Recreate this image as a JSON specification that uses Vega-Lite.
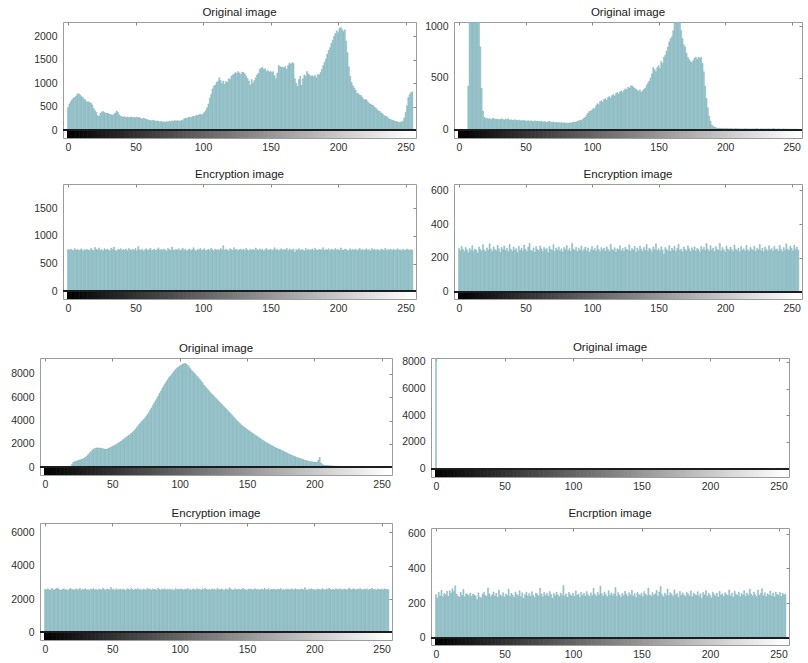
{
  "$schema": "https://vega.github.io/schema/vega-lite/v6.json",
  "background": "white",
  "padding": {"left": 0, "top": 6, "right": 0, "bottom": 0},
  "align": "none",
  "bounds": "full",
  "spacing": 0,
  "datasets": {
    "p1": [{"x":0,"y":480},{"x":1,"y":560},{"x":2,"y":610},{"x":3,"y":650},{"x":4,"y":690},{"x":5,"y":700},{"x":6,"y":730},{"x":7,"y":770},{"x":8,"y":780},{"x":9,"y":750},{"x":10,"y":720},{"x":11,"y":700},{"x":12,"y":660},{"x":13,"y":640},{"x":14,"y":600},{"x":15,"y":610},{"x":16,"y":590},{"x":17,"y":580},{"x":18,"y":540},{"x":19,"y":470},{"x":20,"y":420},{"x":21,"y":380},{"x":22,"y":310},{"x":23,"y":300},{"x":24,"y":360},{"x":25,"y":390},{"x":26,"y":400},{"x":27,"y":380},{"x":28,"y":360},{"x":29,"y":370},{"x":30,"y":350},{"x":31,"y":340},{"x":32,"y":330},{"x":33,"y":320},{"x":34,"y":340},{"x":35,"y":370},{"x":36,"y":410},{"x":37,"y":380},{"x":38,"y":330},{"x":39,"y":300},{"x":40,"y":290},{"x":41,"y":280},{"x":42,"y":290},{"x":43,"y":270},{"x":44,"y":280},{"x":45,"y":275},{"x":46,"y":270},{"x":47,"y":285},{"x":48,"y":270},{"x":49,"y":275},{"x":50,"y":265},{"x":51,"y":280},{"x":52,"y":265},{"x":53,"y":270},{"x":54,"y":250},{"x":55,"y":240},{"x":56,"y":260},{"x":57,"y":245},{"x":58,"y":230},{"x":59,"y":225},{"x":60,"y":215},{"x":61,"y":210},{"x":62,"y":200},{"x":63,"y":215},{"x":64,"y":205},{"x":65,"y":190},{"x":66,"y":200},{"x":67,"y":185},{"x":68,"y":180},{"x":69,"y":190},{"x":70,"y":175},{"x":71,"y":180},{"x":72,"y":170},{"x":73,"y":185},{"x":74,"y":175},{"x":75,"y":190},{"x":76,"y":180},{"x":77,"y":200},{"x":78,"y":185},{"x":79,"y":210},{"x":80,"y":195},{"x":81,"y":205},{"x":82,"y":200},{"x":83,"y":190},{"x":84,"y":215},{"x":85,"y":205},{"x":86,"y":245},{"x":87,"y":260},{"x":88,"y":250},{"x":89,"y":270},{"x":90,"y":280},{"x":91,"y":265},{"x":92,"y":290},{"x":93,"y":300},{"x":94,"y":290},{"x":95,"y":320},{"x":96,"y":310},{"x":97,"y":330},{"x":98,"y":340},{"x":99,"y":320},{"x":100,"y":350},{"x":101,"y":380},{"x":102,"y":420},{"x":103,"y":480},{"x":104,"y":560},{"x":105,"y":680},{"x":106,"y":760},{"x":107,"y":880},{"x":108,"y":940},{"x":109,"y":960},{"x":110,"y":1020},{"x":111,"y":1040},{"x":112,"y":1120},{"x":113,"y":1060},{"x":114,"y":1000},{"x":115,"y":1050},{"x":116,"y":980},{"x":117,"y":1040},{"x":118,"y":1020},{"x":119,"y":1100},{"x":120,"y":1080},{"x":121,"y":1150},{"x":122,"y":1180},{"x":123,"y":1200},{"x":124,"y":1230},{"x":125,"y":1210},{"x":126,"y":1250},{"x":127,"y":1220},{"x":128,"y":1190},{"x":129,"y":1240},{"x":130,"y":1230},{"x":131,"y":1200},{"x":132,"y":1150},{"x":133,"y":1100},{"x":134,"y":1050},{"x":135,"y":960},{"x":136,"y":1080},{"x":137,"y":1000},{"x":138,"y":1060},{"x":139,"y":1120},{"x":140,"y":1180},{"x":141,"y":1210},{"x":142,"y":1300},{"x":143,"y":1320},{"x":144,"y":1340},{"x":145,"y":1300},{"x":146,"y":1310},{"x":147,"y":1250},{"x":148,"y":1280},{"x":149,"y":1240},{"x":150,"y":1260},{"x":151,"y":1230},{"x":152,"y":1250},{"x":153,"y":1160},{"x":154,"y":1100},{"x":155,"y":1220},{"x":156,"y":1380},{"x":157,"y":1360},{"x":158,"y":1340},{"x":159,"y":1350},{"x":160,"y":1330},{"x":161,"y":1360},{"x":162,"y":1300},{"x":163,"y":1380},{"x":164,"y":1430},{"x":165,"y":1410},{"x":166,"y":1440},{"x":167,"y":1420},{"x":168,"y":1100},{"x":169,"y":1000},{"x":170,"y":930},{"x":171,"y":1080},{"x":172,"y":1150},{"x":173,"y":960},{"x":174,"y":1100},{"x":175,"y":1180},{"x":176,"y":1150},{"x":177,"y":1250},{"x":178,"y":1200},{"x":179,"y":1170},{"x":180,"y":1150},{"x":181,"y":1160},{"x":182,"y":1140},{"x":183,"y":1170},{"x":184,"y":1120},{"x":185,"y":1190},{"x":186,"y":1180},{"x":187,"y":1230},{"x":188,"y":1300},{"x":189,"y":1380},{"x":190,"y":1450},{"x":191,"y":1520},{"x":192,"y":1620},{"x":193,"y":1700},{"x":194,"y":1760},{"x":195,"y":1850},{"x":196,"y":1920},{"x":197,"y":2000},{"x":198,"y":2060},{"x":199,"y":2120},{"x":200,"y":2080},{"x":201,"y":2170},{"x":202,"y":2190},{"x":203,"y":2150},{"x":204,"y":2100},{"x":205,"y":2140},{"x":206,"y":1900},{"x":207,"y":1650},{"x":208,"y":1350},{"x":209,"y":1150},{"x":210,"y":1020},{"x":211,"y":950},{"x":212,"y":900},{"x":213,"y":850},{"x":214,"y":790},{"x":215,"y":780},{"x":216,"y":750},{"x":217,"y":740},{"x":218,"y":700},{"x":219,"y":660},{"x":220,"y":650},{"x":221,"y":650},{"x":222,"y":610},{"x":223,"y":570},{"x":224,"y":560},{"x":225,"y":540},{"x":226,"y":530},{"x":227,"y":490},{"x":228,"y":470},{"x":229,"y":440},{"x":230,"y":410},{"x":231,"y":400},{"x":232,"y":370},{"x":233,"y":350},{"x":234,"y":320},{"x":235,"y":300},{"x":236,"y":290},{"x":237,"y":265},{"x":238,"y":240},{"x":239,"y":230},{"x":240,"y":215},{"x":241,"y":210},{"x":242,"y":195},{"x":243,"y":185},{"x":244,"y":180},{"x":245,"y":170},{"x":246,"y":165},{"x":247,"y":175},{"x":248,"y":190},{"x":249,"y":260},{"x":250,"y":380},{"x":251,"y":520},{"x":252,"y":700},{"x":253,"y":760},{"x":254,"y":800},{"x":255,"y":820}],
    "p2": [{"x":0,"y":0},{"x":1,"y":0},{"x":2,"y":0},{"x":3,"y":0},{"x":4,"y":0},{"x":5,"y":0},{"x":6,"y":0},{"x":7,"y":420},{"x":8,"y":1800},{"x":9,"y":2400},{"x":10,"y":2600},{"x":11,"y":2500},{"x":12,"y":2200},{"x":13,"y":1900},{"x":14,"y":1600},{"x":15,"y":1300},{"x":16,"y":800},{"x":17,"y":400},{"x":18,"y":180},{"x":19,"y":120},{"x":20,"y":105},{"x":21,"y":110},{"x":22,"y":100},{"x":23,"y":108},{"x":24,"y":95},{"x":25,"y":104},{"x":26,"y":110},{"x":27,"y":98},{"x":28,"y":102},{"x":29,"y":96},{"x":30,"y":100},{"x":31,"y":94},{"x":32,"y":105},{"x":33,"y":98},{"x":34,"y":92},{"x":35,"y":100},{"x":36,"y":96},{"x":37,"y":104},{"x":38,"y":90},{"x":39,"y":95},{"x":40,"y":92},{"x":41,"y":88},{"x":42,"y":96},{"x":43,"y":90},{"x":44,"y":85},{"x":45,"y":93},{"x":46,"y":88},{"x":47,"y":82},{"x":48,"y":90},{"x":49,"y":86},{"x":50,"y":84},{"x":51,"y":80},{"x":52,"y":88},{"x":53,"y":78},{"x":54,"y":85},{"x":55,"y":82},{"x":56,"y":76},{"x":57,"y":84},{"x":58,"y":80},{"x":59,"y":78},{"x":60,"y":82},{"x":61,"y":75},{"x":62,"y":80},{"x":63,"y":72},{"x":64,"y":78},{"x":65,"y":74},{"x":66,"y":70},{"x":67,"y":76},{"x":68,"y":80},{"x":69,"y":72},{"x":70,"y":68},{"x":71,"y":74},{"x":72,"y":66},{"x":73,"y":70},{"x":74,"y":64},{"x":75,"y":72},{"x":76,"y":60},{"x":77,"y":68},{"x":78,"y":62},{"x":79,"y":66},{"x":80,"y":60},{"x":81,"y":64},{"x":82,"y":58},{"x":83,"y":66},{"x":84,"y":62},{"x":85,"y":68},{"x":86,"y":70},{"x":87,"y":74},{"x":88,"y":72},{"x":89,"y":80},{"x":90,"y":84},{"x":91,"y":90},{"x":92,"y":88},{"x":93,"y":100},{"x":94,"y":110},{"x":95,"y":120},{"x":96,"y":140},{"x":97,"y":160},{"x":98,"y":175},{"x":99,"y":180},{"x":100,"y":190},{"x":101,"y":205},{"x":102,"y":200},{"x":103,"y":230},{"x":104,"y":250},{"x":105,"y":240},{"x":106,"y":270},{"x":107,"y":280},{"x":108,"y":265},{"x":109,"y":290},{"x":110,"y":300},{"x":111,"y":285},{"x":112,"y":310},{"x":113,"y":320},{"x":114,"y":305},{"x":115,"y":330},{"x":116,"y":340},{"x":117,"y":325},{"x":118,"y":350},{"x":119,"y":360},{"x":120,"y":345},{"x":121,"y":365},{"x":122,"y":375},{"x":123,"y":360},{"x":124,"y":380},{"x":125,"y":395},{"x":126,"y":385},{"x":127,"y":410},{"x":128,"y":400},{"x":129,"y":420},{"x":130,"y":425},{"x":131,"y":410},{"x":132,"y":400},{"x":133,"y":390},{"x":134,"y":380},{"x":135,"y":370},{"x":136,"y":385},{"x":137,"y":360},{"x":138,"y":375},{"x":139,"y":390},{"x":140,"y":400},{"x":141,"y":430},{"x":142,"y":450},{"x":143,"y":470},{"x":144,"y":500},{"x":145,"y":540},{"x":146,"y":600},{"x":147,"y":580},{"x":148,"y":560},{"x":149,"y":600},{"x":150,"y":620},{"x":151,"y":590},{"x":152,"y":660},{"x":153,"y":640},{"x":154,"y":700},{"x":155,"y":720},{"x":156,"y":760},{"x":157,"y":800},{"x":158,"y":850},{"x":159,"y":880},{"x":160,"y":900},{"x":161,"y":960},{"x":162,"y":1060},{"x":163,"y":1150},{"x":164,"y":1250},{"x":165,"y":1100},{"x":166,"y":1050},{"x":167,"y":960},{"x":168,"y":880},{"x":169,"y":820},{"x":170,"y":800},{"x":171,"y":740},{"x":172,"y":700},{"x":173,"y":680},{"x":174,"y":660},{"x":175,"y":650},{"x":176,"y":670},{"x":177,"y":690},{"x":178,"y":700},{"x":179,"y":680},{"x":180,"y":700},{"x":181,"y":690},{"x":182,"y":700},{"x":183,"y":640},{"x":184,"y":560},{"x":185,"y":420},{"x":186,"y":300},{"x":187,"y":210},{"x":188,"y":130},{"x":189,"y":80},{"x":190,"y":45},{"x":191,"y":30},{"x":192,"y":25},{"x":193,"y":18},{"x":194,"y":15},{"x":195,"y":12},{"x":196,"y":14},{"x":197,"y":10},{"x":198,"y":12},{"x":199,"y":9},{"x":200,"y":10},{"x":201,"y":8},{"x":202,"y":12},{"x":203,"y":7},{"x":204,"y":9},{"x":205,"y":11},{"x":206,"y":6},{"x":207,"y":8},{"x":208,"y":10},{"x":209,"y":7},{"x":210,"y":9},{"x":211,"y":6},{"x":212,"y":8},{"x":213,"y":5},{"x":214,"y":7},{"x":215,"y":9},{"x":216,"y":6},{"x":217,"y":8},{"x":218,"y":5},{"x":219,"y":7},{"x":220,"y":6},{"x":221,"y":8},{"x":222,"y":5},{"x":223,"y":7},{"x":224,"y":9},{"x":225,"y":6},{"x":226,"y":5},{"x":227,"y":8},{"x":228,"y":6},{"x":229,"y":7},{"x":230,"y":5},{"x":231,"y":7},{"x":232,"y":6},{"x":233,"y":8},{"x":234,"y":5},{"x":235,"y":6},{"x":236,"y":9},{"x":237,"y":7},{"x":238,"y":5},{"x":239,"y":6},{"x":240,"y":8},{"x":241,"y":5},{"x":242,"y":6},{"x":243,"y":4},{"x":244,"y":7},{"x":245,"y":5},{"x":246,"y":6},{"x":247,"y":4},{"x":248,"y":5},{"x":249,"y":3},{"x":250,"y":4},{"x":251,"y":3},{"x":252,"y":5},{"x":253,"y":2},{"x":254,"y":3},{"x":255,"y":2}],
    "p3": [{"x":0,"y":752},{"x":1,"y":738},{"x":2,"y":761},{"x":3,"y":745},{"x":4,"y":729},{"x":5,"y":770},{"x":6,"y":741},{"x":7,"y":756},{"x":8,"y":733},{"x":9,"y":748},{"x":10,"y":765},{"x":11,"y":724},{"x":12,"y":751},{"x":13,"y":739},{"x":14,"y":758},{"x":15,"y":742},{"x":16,"y":735},{"x":17,"y":774},{"x":18,"y":747},{"x":19,"y":731},{"x":20,"y":790},{"x":21,"y":758},{"x":22,"y":744},{"x":23,"y":781},{"x":24,"y":736},{"x":25,"y":752},{"x":26,"y":727},{"x":27,"y":769},{"x":28,"y":745},{"x":29,"y":760},{"x":30,"y":741},{"x":31,"y":733},{"x":32,"y":778},{"x":33,"y":750},{"x":34,"y":795},{"x":35,"y":739},{"x":36,"y":722},{"x":37,"y":757},{"x":38,"y":746},{"x":39,"y":768},{"x":40,"y":735},{"x":41,"y":752},{"x":42,"y":744},{"x":43,"y":761},{"x":44,"y":728},{"x":45,"y":773},{"x":46,"y":749},{"x":47,"y":738},{"x":48,"y":756},{"x":49,"y":742},{"x":50,"y":771},{"x":51,"y":730},{"x":52,"y":806},{"x":53,"y":747},{"x":54,"y":739},{"x":55,"y":759},{"x":56,"y":726},{"x":57,"y":750},{"x":58,"y":765},{"x":59,"y":737},{"x":60,"y":748},{"x":61,"y":775},{"x":62,"y":733},{"x":63,"y":744},{"x":64,"y":760},{"x":65,"y":729},{"x":66,"y":752},{"x":67,"y":782},{"x":68,"y":740},{"x":69,"y":754},{"x":70,"y":736},{"x":71,"y":763},{"x":72,"y":745},{"x":73,"y":727},{"x":74,"y":770},{"x":75,"y":751},{"x":76,"y":738},{"x":77,"y":797},{"x":78,"y":744},{"x":79,"y":733},{"x":80,"y":759},{"x":81,"y":742},{"x":82,"y":768},{"x":83,"y":731},{"x":84,"y":750},{"x":85,"y":776},{"x":86,"y":739},{"x":87,"y":755},{"x":88,"y":724},{"x":89,"y":746},{"x":90,"y":762},{"x":91,"y":737},{"x":92,"y":749},{"x":93,"y":784},{"x":94,"y":741},{"x":95,"y":728},{"x":96,"y":758},{"x":97,"y":745},{"x":98,"y":771},{"x":99,"y":734},{"x":100,"y":750},{"x":101,"y":766},{"x":102,"y":729},{"x":103,"y":743},{"x":104,"y":757},{"x":105,"y":738},{"x":106,"y":775},{"x":107,"y":748},{"x":108,"y":732},{"x":109,"y":760},{"x":110,"y":741},{"x":111,"y":754},{"x":112,"y":736},{"x":113,"y":769},{"x":114,"y":747},{"x":115,"y":822},{"x":116,"y":739},{"x":117,"y":758},{"x":118,"y":744},{"x":119,"y":730},{"x":120,"y":767},{"x":121,"y":751},{"x":122,"y":738},{"x":123,"y":786},{"x":124,"y":745},{"x":125,"y":757},{"x":126,"y":733},{"x":127,"y":749},{"x":128,"y":762},{"x":129,"y":740},{"x":130,"y":755},{"x":131,"y":736},{"x":132,"y":772},{"x":133,"y":746},{"x":134,"y":729},{"x":135,"y":760},{"x":136,"y":743},{"x":137,"y":752},{"x":138,"y":738},{"x":139,"y":779},{"x":140,"y":748},{"x":141,"y":734},{"x":142,"y":763},{"x":143,"y":741},{"x":144,"y":756},{"x":145,"y":727},{"x":146,"y":751},{"x":147,"y":770},{"x":148,"y":739},{"x":149,"y":745},{"x":150,"y":761},{"x":151,"y":735},{"x":152,"y":748},{"x":153,"y":784},{"x":154,"y":742},{"x":155,"y":757},{"x":156,"y":730},{"x":157,"y":749},{"x":158,"y":766},{"x":159,"y":738},{"x":160,"y":752},{"x":161,"y":744},{"x":162,"y":775},{"x":163,"y":731},{"x":164,"y":758},{"x":165,"y":747},{"x":166,"y":739},{"x":167,"y":762},{"x":168,"y":705},{"x":169,"y":750},{"x":170,"y":741},{"x":171,"y":768},{"x":172,"y":733},{"x":173,"y":754},{"x":174,"y":746},{"x":175,"y":728},{"x":176,"y":771},{"x":177,"y":743},{"x":178,"y":756},{"x":179,"y":737},{"x":180,"y":749},{"x":181,"y":764},{"x":182,"y":732},{"x":183,"y":777},{"x":184,"y":745},{"x":185,"y":739},{"x":186,"y":758},{"x":187,"y":741},{"x":188,"y":753},{"x":189,"y":785},{"x":190,"y":736},{"x":191,"y":752},{"x":192,"y":744},{"x":193,"y":767},{"x":194,"y":730},{"x":195,"y":759},{"x":196,"y":748},{"x":197,"y":738},{"x":198,"y":770},{"x":199,"y":742},{"x":200,"y":755},{"x":201,"y":734},{"x":202,"y":781},{"x":203,"y":746},{"x":204,"y":739},{"x":205,"y":762},{"x":206,"y":751},{"x":207,"y":729},{"x":208,"y":744},{"x":209,"y":768},{"x":210,"y":737},{"x":211,"y":753},{"x":212,"y":742},{"x":213,"y":760},{"x":214,"y":731},{"x":215,"y":749},{"x":216,"y":772},{"x":217,"y":740},{"x":218,"y":756},{"x":219,"y":733},{"x":220,"y":748},{"x":221,"y":765},{"x":222,"y":738},{"x":223,"y":751},{"x":224,"y":727},{"x":225,"y":769},{"x":226,"y":743},{"x":227,"y":757},{"x":228,"y":736},{"x":229,"y":754},{"x":230,"y":745},{"x":231,"y":731},{"x":232,"y":762},{"x":233,"y":748},{"x":234,"y":739},{"x":235,"y":774},{"x":236,"y":735},{"x":237,"y":752},{"x":238,"y":741},{"x":239,"y":760},{"x":240,"y":733},{"x":241,"y":756},{"x":242,"y":746},{"x":243,"y":738},{"x":244,"y":767},{"x":245,"y":742},{"x":246,"y":750},{"x":247,"y":729},{"x":248,"y":758},{"x":249,"y":744},{"x":250,"y":736},{"x":251,"y":761},{"x":252,"y":747},{"x":253,"y":733},{"x":254,"y":755},{"x":255,"y":740}],
    "p4": [{"x":0,"y":255},{"x":1,"y":242},{"x":2,"y":268},{"x":3,"y":250},{"x":4,"y":237},{"x":5,"y":261},{"x":6,"y":248},{"x":7,"y":231},{"x":8,"y":256},{"x":9,"y":244},{"x":10,"y":272},{"x":11,"y":239},{"x":12,"y":253},{"x":13,"y":246},{"x":14,"y":229},{"x":15,"y":265},{"x":16,"y":251},{"x":17,"y":240},{"x":18,"y":278},{"x":19,"y":247},{"x":20,"y":236},{"x":21,"y":259},{"x":22,"y":245},{"x":23,"y":283},{"x":24,"y":252},{"x":25,"y":238},{"x":26,"y":266},{"x":27,"y":249},{"x":28,"y":241},{"x":29,"y":274},{"x":30,"y":254},{"x":31,"y":233},{"x":32,"y":262},{"x":33,"y":248},{"x":34,"y":271},{"x":35,"y":243},{"x":36,"y":257},{"x":37,"y":236},{"x":38,"y":280},{"x":39,"y":250},{"x":40,"y":239},{"x":41,"y":264},{"x":42,"y":247},{"x":43,"y":255},{"x":44,"y":232},{"x":45,"y":269},{"x":46,"y":244},{"x":47,"y":258},{"x":48,"y":241},{"x":49,"y":276},{"x":50,"y":251},{"x":51,"y":237},{"x":52,"y":263},{"x":53,"y":286},{"x":54,"y":245},{"x":55,"y":240},{"x":56,"y":259},{"x":57,"y":234},{"x":58,"y":267},{"x":59,"y":249},{"x":60,"y":242},{"x":61,"y":271},{"x":62,"y":253},{"x":63,"y":238},{"x":64,"y":262},{"x":65,"y":247},{"x":66,"y":256},{"x":67,"y":231},{"x":68,"y":268},{"x":69,"y":250},{"x":70,"y":244},{"x":71,"y":279},{"x":72,"y":237},{"x":73,"y":258},{"x":74,"y":246},{"x":75,"y":265},{"x":76,"y":240},{"x":77,"y":253},{"x":78,"y":235},{"x":79,"y":261},{"x":80,"y":248},{"x":81,"y":273},{"x":82,"y":242},{"x":83,"y":256},{"x":84,"y":239},{"x":85,"y":287},{"x":86,"y":251},{"x":87,"y":244},{"x":88,"y":262},{"x":89,"y":236},{"x":90,"y":257},{"x":91,"y":245},{"x":92,"y":270},{"x":93,"y":238},{"x":94,"y":252},{"x":95,"y":264},{"x":96,"y":241},{"x":97,"y":259},{"x":98,"y":233},{"x":99,"y":248},{"x":100,"y":267},{"x":101,"y":243},{"x":102,"y":255},{"x":103,"y":239},{"x":104,"y":274},{"x":105,"y":250},{"x":106,"y":236},{"x":107,"y":261},{"x":108,"y":246},{"x":109,"y":258},{"x":110,"y":240},{"x":111,"y":266},{"x":112,"y":252},{"x":113,"y":237},{"x":114,"y":281},{"x":115,"y":249},{"x":116,"y":243},{"x":117,"y":260},{"x":118,"y":235},{"x":119,"y":254},{"x":120,"y":248},{"x":121,"y":272},{"x":122,"y":241},{"x":123,"y":256},{"x":124,"y":238},{"x":125,"y":263},{"x":126,"y":251},{"x":127,"y":244},{"x":128,"y":277},{"x":129,"y":239},{"x":130,"y":255},{"x":131,"y":246},{"x":132,"y":268},{"x":133,"y":233},{"x":134,"y":259},{"x":135,"y":242},{"x":136,"y":270},{"x":137,"y":250},{"x":138,"y":238},{"x":139,"y":262},{"x":140,"y":245},{"x":141,"y":279},{"x":142,"y":240},{"x":143,"y":257},{"x":144,"y":251},{"x":145,"y":236},{"x":146,"y":265},{"x":147,"y":248},{"x":148,"y":283},{"x":149,"y":243},{"x":150,"y":254},{"x":151,"y":239},{"x":152,"y":266},{"x":153,"y":247},{"x":154,"y":222},{"x":155,"y":261},{"x":156,"y":250},{"x":157,"y":241},{"x":158,"y":273},{"x":159,"y":237},{"x":160,"y":258},{"x":161,"y":246},{"x":162,"y":269},{"x":163,"y":238},{"x":164,"y":255},{"x":165,"y":280},{"x":166,"y":243},{"x":167,"y":252},{"x":168,"y":236},{"x":169,"y":264},{"x":170,"y":249},{"x":171,"y":241},{"x":172,"y":271},{"x":173,"y":254},{"x":174,"y":237},{"x":175,"y":260},{"x":176,"y":245},{"x":177,"y":266},{"x":178,"y":240},{"x":179,"y":256},{"x":180,"y":250},{"x":181,"y":234},{"x":182,"y":268},{"x":183,"y":247},{"x":184,"y":262},{"x":185,"y":243},{"x":186,"y":285},{"x":187,"y":252},{"x":188,"y":239},{"x":189,"y":272},{"x":190,"y":246},{"x":191,"y":258},{"x":192,"y":237},{"x":193,"y":266},{"x":194,"y":251},{"x":195,"y":244},{"x":196,"y":287},{"x":197,"y":240},{"x":198,"y":261},{"x":199,"y":248},{"x":200,"y":235},{"x":201,"y":270},{"x":202,"y":253},{"x":203,"y":242},{"x":204,"y":264},{"x":205,"y":249},{"x":206,"y":238},{"x":207,"y":276},{"x":208,"y":251},{"x":209,"y":243},{"x":210,"y":259},{"x":211,"y":236},{"x":212,"y":267},{"x":213,"y":245},{"x":214,"y":254},{"x":215,"y":240},{"x":216,"y":273},{"x":217,"y":248},{"x":218,"y":237},{"x":219,"y":262},{"x":220,"y":251},{"x":221,"y":244},{"x":222,"y":269},{"x":223,"y":238},{"x":224,"y":256},{"x":225,"y":247},{"x":226,"y":279},{"x":227,"y":242},{"x":228,"y":258},{"x":229,"y":236},{"x":230,"y":265},{"x":231,"y":250},{"x":232,"y":241},{"x":233,"y":272},{"x":234,"y":246},{"x":235,"y":255},{"x":236,"y":239},{"x":237,"y":268},{"x":238,"y":248},{"x":239,"y":253},{"x":240,"y":240},{"x":241,"y":274},{"x":242,"y":249},{"x":243,"y":237},{"x":244,"y":261},{"x":245,"y":245},{"x":246,"y":283},{"x":247,"y":252},{"x":248,"y":243},{"x":249,"y":270},{"x":250,"y":256},{"x":251,"y":241},{"x":252,"y":276},{"x":253,"y":250},{"x":254,"y":264},{"x":255,"y":245}],
    "p5": [{"x":0,"y":0},{"x":1,"y":0},{"x":2,"y":0},{"x":3,"y":0},{"x":4,"y":0},{"x":5,"y":0},{"x":6,"y":0},{"x":7,"y":0},{"x":8,"y":0},{"x":9,"y":0},{"x":10,"y":0},{"x":11,"y":0},{"x":12,"y":0},{"x":13,"y":0},{"x":14,"y":0},{"x":15,"y":0},{"x":16,"y":0},{"x":17,"y":0},{"x":18,"y":0},{"x":19,"y":0},{"x":20,"y":250},{"x":21,"y":420},{"x":22,"y":480},{"x":23,"y":520},{"x":24,"y":560},{"x":25,"y":600},{"x":26,"y":640},{"x":27,"y":680},{"x":28,"y":720},{"x":29,"y":780},{"x":30,"y":850},{"x":31,"y":950},{"x":32,"y":1080},{"x":33,"y":1200},{"x":34,"y":1330},{"x":35,"y":1450},{"x":36,"y":1550},{"x":37,"y":1620},{"x":38,"y":1660},{"x":39,"y":1670},{"x":40,"y":1660},{"x":41,"y":1650},{"x":42,"y":1630},{"x":43,"y":1600},{"x":44,"y":1570},{"x":45,"y":1550},{"x":46,"y":1570},{"x":47,"y":1610},{"x":48,"y":1670},{"x":49,"y":1730},{"x":50,"y":1790},{"x":51,"y":1850},{"x":52,"y":1900},{"x":53,"y":1970},{"x":54,"y":2050},{"x":55,"y":2120},{"x":56,"y":2200},{"x":57,"y":2280},{"x":58,"y":2370},{"x":59,"y":2460},{"x":60,"y":2550},{"x":61,"y":2640},{"x":62,"y":2720},{"x":63,"y":2800},{"x":64,"y":2900},{"x":65,"y":3010},{"x":66,"y":3120},{"x":67,"y":3250},{"x":68,"y":3400},{"x":69,"y":3550},{"x":70,"y":3700},{"x":71,"y":3820},{"x":72,"y":3950},{"x":73,"y":4070},{"x":74,"y":4200},{"x":75,"y":4350},{"x":76,"y":4510},{"x":77,"y":4680},{"x":78,"y":4880},{"x":79,"y":5080},{"x":80,"y":5290},{"x":81,"y":5500},{"x":82,"y":5700},{"x":83,"y":5900},{"x":84,"y":6100},{"x":85,"y":6330},{"x":86,"y":6530},{"x":87,"y":6750},{"x":88,"y":6950},{"x":89,"y":7150},{"x":90,"y":7320},{"x":91,"y":7500},{"x":92,"y":7670},{"x":93,"y":7820},{"x":94,"y":7960},{"x":95,"y":8100},{"x":96,"y":8250},{"x":97,"y":8380},{"x":98,"y":8500},{"x":99,"y":8600},{"x":100,"y":8680},{"x":101,"y":8760},{"x":102,"y":8820},{"x":103,"y":8870},{"x":104,"y":8920},{"x":105,"y":8850},{"x":106,"y":8750},{"x":107,"y":8620},{"x":108,"y":8460},{"x":109,"y":8300},{"x":110,"y":8180},{"x":111,"y":8060},{"x":112,"y":7940},{"x":113,"y":7800},{"x":114,"y":7680},{"x":115,"y":7540},{"x":116,"y":7400},{"x":117,"y":7260},{"x":118,"y":7060},{"x":119,"y":6920},{"x":120,"y":6790},{"x":121,"y":6660},{"x":122,"y":6530},{"x":123,"y":6400},{"x":124,"y":6280},{"x":125,"y":6160},{"x":126,"y":6040},{"x":127,"y":5920},{"x":128,"y":5800},{"x":129,"y":5680},{"x":130,"y":5560},{"x":131,"y":5440},{"x":132,"y":5320},{"x":133,"y":5200},{"x":134,"y":5080},{"x":135,"y":4960},{"x":136,"y":4840},{"x":137,"y":4720},{"x":138,"y":4600},{"x":139,"y":4470},{"x":140,"y":4340},{"x":141,"y":4210},{"x":142,"y":4080},{"x":143,"y":3960},{"x":144,"y":3850},{"x":145,"y":3740},{"x":146,"y":3630},{"x":147,"y":3530},{"x":148,"y":3440},{"x":149,"y":3350},{"x":150,"y":3260},{"x":151,"y":3180},{"x":152,"y":3100},{"x":153,"y":3020},{"x":154,"y":2940},{"x":155,"y":2860},{"x":156,"y":2780},{"x":157,"y":2700},{"x":158,"y":2620},{"x":159,"y":2540},{"x":160,"y":2460},{"x":161,"y":2380},{"x":162,"y":2300},{"x":163,"y":2230},{"x":164,"y":2160},{"x":165,"y":2090},{"x":166,"y":2020},{"x":167,"y":1950},{"x":168,"y":1890},{"x":169,"y":1830},{"x":170,"y":1770},{"x":171,"y":1710},{"x":172,"y":1650},{"x":173,"y":1600},{"x":174,"y":1550},{"x":175,"y":1500},{"x":176,"y":1450},{"x":177,"y":1390},{"x":178,"y":1330},{"x":179,"y":1270},{"x":180,"y":1210},{"x":181,"y":1150},{"x":182,"y":1100},{"x":183,"y":1050},{"x":184,"y":1000},{"x":185,"y":950},{"x":186,"y":900},{"x":187,"y":860},{"x":188,"y":820},{"x":189,"y":780},{"x":190,"y":740},{"x":191,"y":700},{"x":192,"y":660},{"x":193,"y":620},{"x":194,"y":580},{"x":195,"y":550},{"x":196,"y":520},{"x":197,"y":500},{"x":198,"y":480},{"x":199,"y":460},{"x":200,"y":450},{"x":201,"y":440},{"x":202,"y":430},{"x":203,"y":600},{"x":204,"y":860},{"x":205,"y":380},{"x":206,"y":250},{"x":207,"y":200},{"x":208,"y":180},{"x":209,"y":160},{"x":210,"y":150},{"x":211,"y":140},{"x":212,"y":135},{"x":213,"y":130},{"x":214,"y":120},{"x":215,"y":110},{"x":216,"y":100},{"x":217,"y":95},{"x":218,"y":90},{"x":219,"y":85},{"x":220,"y":75},{"x":221,"y":70},{"x":222,"y":60},{"x":223,"y":55},{"x":224,"y":50},{"x":225,"y":45},{"x":226,"y":40},{"x":227,"y":30},{"x":228,"y":20},{"x":229,"y":12},{"x":230,"y":0},{"x":231,"y":0},{"x":232,"y":0},{"x":233,"y":0},{"x":234,"y":0},{"x":235,"y":0},{"x":236,"y":0},{"x":237,"y":0},{"x":238,"y":0},{"x":239,"y":0},{"x":240,"y":0},{"x":241,"y":0},{"x":242,"y":0},{"x":243,"y":0},{"x":244,"y":0},{"x":245,"y":0},{"x":246,"y":0},{"x":247,"y":0},{"x":248,"y":0},{"x":249,"y":0},{"x":250,"y":0},{"x":251,"y":0},{"x":252,"y":0},{"x":253,"y":0},{"x":254,"y":0},{"x":255,"y":0}],
    "p6": [{"x":0,"y":65536},{"x":1,"y":0},{"x":2,"y":0},{"x":3,"y":0},{"x":4,"y":0},{"x":5,"y":0},{"x":6,"y":0},{"x":7,"y":0},{"x":8,"y":0},{"x":9,"y":0},{"x":10,"y":0},{"x":11,"y":0},{"x":12,"y":0},{"x":13,"y":0},{"x":14,"y":0},{"x":15,"y":0},{"x":16,"y":0},{"x":17,"y":0},{"x":18,"y":0},{"x":19,"y":0},{"x":20,"y":0},{"x":21,"y":0},{"x":22,"y":0},{"x":23,"y":0},{"x":24,"y":0},{"x":25,"y":0},{"x":26,"y":0},{"x":27,"y":0},{"x":28,"y":0},{"x":29,"y":0},{"x":30,"y":0},{"x":31,"y":0},{"x":32,"y":0},{"x":33,"y":0},{"x":34,"y":0},{"x":35,"y":0},{"x":36,"y":0},{"x":37,"y":0},{"x":38,"y":0},{"x":39,"y":0},{"x":40,"y":0},{"x":41,"y":0},{"x":42,"y":0},{"x":43,"y":0},{"x":44,"y":0},{"x":45,"y":0},{"x":46,"y":0},{"x":47,"y":0},{"x":48,"y":0},{"x":49,"y":0},{"x":50,"y":0},{"x":51,"y":0},{"x":52,"y":0},{"x":53,"y":0},{"x":54,"y":0},{"x":55,"y":0},{"x":56,"y":0},{"x":57,"y":0},{"x":58,"y":0},{"x":59,"y":0},{"x":60,"y":0},{"x":61,"y":0},{"x":62,"y":0},{"x":63,"y":0},{"x":64,"y":0},{"x":65,"y":0},{"x":66,"y":0},{"x":67,"y":0},{"x":68,"y":0},{"x":69,"y":0},{"x":70,"y":0},{"x":71,"y":0},{"x":72,"y":0},{"x":73,"y":0},{"x":74,"y":0},{"x":75,"y":0},{"x":76,"y":0},{"x":77,"y":0},{"x":78,"y":0},{"x":79,"y":0},{"x":80,"y":0},{"x":81,"y":0},{"x":82,"y":0},{"x":83,"y":0},{"x":84,"y":0},{"x":85,"y":0},{"x":86,"y":0},{"x":87,"y":0},{"x":88,"y":0},{"x":89,"y":0},{"x":90,"y":0},{"x":91,"y":0},{"x":92,"y":0},{"x":93,"y":0},{"x":94,"y":0},{"x":95,"y":0},{"x":96,"y":0},{"x":97,"y":0},{"x":98,"y":0},{"x":99,"y":0},{"x":100,"y":0},{"x":101,"y":0},{"x":102,"y":0},{"x":103,"y":0},{"x":104,"y":0},{"x":105,"y":0},{"x":106,"y":0},{"x":107,"y":0},{"x":108,"y":0},{"x":109,"y":0},{"x":110,"y":0},{"x":111,"y":0},{"x":112,"y":0},{"x":113,"y":0},{"x":114,"y":0},{"x":115,"y":0},{"x":116,"y":0},{"x":117,"y":0},{"x":118,"y":0},{"x":119,"y":0},{"x":120,"y":0},{"x":121,"y":0},{"x":122,"y":0},{"x":123,"y":0},{"x":124,"y":0},{"x":125,"y":0},{"x":126,"y":0},{"x":127,"y":0},{"x":128,"y":0},{"x":129,"y":0},{"x":130,"y":0},{"x":131,"y":0},{"x":132,"y":0},{"x":133,"y":0},{"x":134,"y":0},{"x":135,"y":0},{"x":136,"y":0},{"x":137,"y":0},{"x":138,"y":0},{"x":139,"y":0},{"x":140,"y":0},{"x":141,"y":0},{"x":142,"y":0},{"x":143,"y":0},{"x":144,"y":0},{"x":145,"y":0},{"x":146,"y":0},{"x":147,"y":0},{"x":148,"y":0},{"x":149,"y":0},{"x":150,"y":0},{"x":151,"y":0},{"x":152,"y":0},{"x":153,"y":0},{"x":154,"y":0},{"x":155,"y":0},{"x":156,"y":0},{"x":157,"y":0},{"x":158,"y":0},{"x":159,"y":0},{"x":160,"y":0},{"x":161,"y":0},{"x":162,"y":0},{"x":163,"y":0},{"x":164,"y":0},{"x":165,"y":0},{"x":166,"y":0},{"x":167,"y":0},{"x":168,"y":0},{"x":169,"y":0},{"x":170,"y":0},{"x":171,"y":0},{"x":172,"y":0},{"x":173,"y":0},{"x":174,"y":0},{"x":175,"y":0},{"x":176,"y":0},{"x":177,"y":0},{"x":178,"y":0},{"x":179,"y":0},{"x":180,"y":0},{"x":181,"y":0},{"x":182,"y":0},{"x":183,"y":0},{"x":184,"y":0},{"x":185,"y":0},{"x":186,"y":0},{"x":187,"y":0},{"x":188,"y":0},{"x":189,"y":0},{"x":190,"y":0},{"x":191,"y":0},{"x":192,"y":0},{"x":193,"y":0},{"x":194,"y":0},{"x":195,"y":0},{"x":196,"y":0},{"x":197,"y":0},{"x":198,"y":0},{"x":199,"y":0},{"x":200,"y":0},{"x":201,"y":0},{"x":202,"y":0},{"x":203,"y":0},{"x":204,"y":0},{"x":205,"y":0},{"x":206,"y":0},{"x":207,"y":0},{"x":208,"y":0},{"x":209,"y":0},{"x":210,"y":0},{"x":211,"y":0},{"x":212,"y":0},{"x":213,"y":0},{"x":214,"y":0},{"x":215,"y":0},{"x":216,"y":0},{"x":217,"y":0},{"x":218,"y":0},{"x":219,"y":0},{"x":220,"y":0},{"x":221,"y":0},{"x":222,"y":0},{"x":223,"y":0},{"x":224,"y":0},{"x":225,"y":0},{"x":226,"y":0},{"x":227,"y":0},{"x":228,"y":0},{"x":229,"y":0},{"x":230,"y":0},{"x":231,"y":0},{"x":232,"y":0},{"x":233,"y":0},{"x":234,"y":0},{"x":235,"y":0},{"x":236,"y":0},{"x":237,"y":0},{"x":238,"y":0},{"x":239,"y":0},{"x":240,"y":0},{"x":241,"y":0},{"x":242,"y":0},{"x":243,"y":0},{"x":244,"y":0},{"x":245,"y":0},{"x":246,"y":0},{"x":247,"y":0},{"x":248,"y":0},{"x":249,"y":0},{"x":250,"y":0},{"x":251,"y":0},{"x":252,"y":0},{"x":253,"y":0},{"x":254,"y":0},{"x":255,"y":0}],
    "p7": [{"x":0,"y":2580},{"x":1,"y":2545},{"x":2,"y":2610},{"x":3,"y":2560},{"x":4,"y":2525},{"x":5,"y":2640},{"x":6,"y":2570},{"x":7,"y":2535},{"x":8,"y":2600},{"x":9,"y":2655},{"x":10,"y":2590},{"x":11,"y":2550},{"x":12,"y":2515},{"x":13,"y":2575},{"x":14,"y":2620},{"x":15,"y":2540},{"x":16,"y":2565},{"x":17,"y":2500},{"x":18,"y":2595},{"x":19,"y":2630},{"x":20,"y":2555},{"x":21,"y":2580},{"x":22,"y":2520},{"x":23,"y":2610},{"x":24,"y":2545},{"x":25,"y":2570},{"x":26,"y":2640},{"x":27,"y":2530},{"x":28,"y":2590},{"x":29,"y":2560},{"x":30,"y":2615},{"x":31,"y":2540},{"x":32,"y":2575},{"x":33,"y":2505},{"x":34,"y":2600},{"x":35,"y":2560},{"x":36,"y":2625},{"x":37,"y":2545},{"x":38,"y":2580},{"x":39,"y":2510},{"x":40,"y":2595},{"x":41,"y":2570},{"x":42,"y":2540},{"x":43,"y":2650},{"x":44,"y":2565},{"x":45,"y":2530},{"x":46,"y":2605},{"x":47,"y":2575},{"x":48,"y":2550},{"x":49,"y":2690},{"x":50,"y":2560},{"x":51,"y":2585},{"x":52,"y":2520},{"x":53,"y":2620},{"x":54,"y":2545},{"x":55,"y":2575},{"x":56,"y":2600},{"x":57,"y":2535},{"x":58,"y":2590},{"x":59,"y":2560},{"x":60,"y":2515},{"x":61,"y":2610},{"x":62,"y":2580},{"x":63,"y":2545},{"x":64,"y":2635},{"x":65,"y":2570},{"x":66,"y":2530},{"x":67,"y":2595},{"x":68,"y":2560},{"x":69,"y":2620},{"x":70,"y":2550},{"x":71,"y":2585},{"x":72,"y":2510},{"x":73,"y":2600},{"x":74,"y":2565},{"x":75,"y":2540},{"x":76,"y":2625},{"x":77,"y":2575},{"x":78,"y":2590},{"x":79,"y":2535},{"x":80,"y":2605},{"x":81,"y":2560},{"x":82,"y":2580},{"x":83,"y":2520},{"x":84,"y":2640},{"x":85,"y":2570},{"x":86,"y":2545},{"x":87,"y":2595},{"x":88,"y":2555},{"x":89,"y":2615},{"x":90,"y":2530},{"x":91,"y":2585},{"x":92,"y":2560},{"x":93,"y":2600},{"x":94,"y":2540},{"x":95,"y":2575},{"x":96,"y":2505},{"x":97,"y":2620},{"x":98,"y":2565},{"x":99,"y":2590},{"x":100,"y":2550},{"x":101,"y":2610},{"x":102,"y":2575},{"x":103,"y":2535},{"x":104,"y":2595},{"x":105,"y":2560},{"x":106,"y":2630},{"x":107,"y":2545},{"x":108,"y":2580},{"x":109,"y":2520},{"x":110,"y":2600},{"x":111,"y":2570},{"x":112,"y":2540},{"x":113,"y":2615},{"x":114,"y":2555},{"x":115,"y":2585},{"x":116,"y":2530},{"x":117,"y":2605},{"x":118,"y":2565},{"x":119,"y":2640},{"x":120,"y":2575},{"x":121,"y":2545},{"x":122,"y":2590},{"x":123,"y":2520},{"x":124,"y":2610},{"x":125,"y":2560},{"x":126,"y":2580},{"x":127,"y":2535},{"x":128,"y":2625},{"x":129,"y":2570},{"x":130,"y":2550},{"x":131,"y":2595},{"x":132,"y":2565},{"x":133,"y":2500},{"x":134,"y":2605},{"x":135,"y":2580},{"x":136,"y":2545},{"x":137,"y":2670},{"x":138,"y":2590},{"x":139,"y":2560},{"x":140,"y":2530},{"x":141,"y":2615},{"x":142,"y":2570},{"x":143,"y":2550},{"x":144,"y":2600},{"x":145,"y":2540},{"x":146,"y":2585},{"x":147,"y":2625},{"x":148,"y":2560},{"x":149,"y":2575},{"x":150,"y":2510},{"x":151,"y":2595},{"x":152,"y":2565},{"x":153,"y":2605},{"x":154,"y":2545},{"x":155,"y":2580},{"x":156,"y":2620},{"x":157,"y":2555},{"x":158,"y":2590},{"x":159,"y":2535},{"x":160,"y":2570},{"x":161,"y":2600},{"x":162,"y":2545},{"x":163,"y":2640},{"x":164,"y":2575},{"x":165,"y":2560},{"x":166,"y":2615},{"x":167,"y":2530},{"x":168,"y":2585},{"x":169,"y":2550},{"x":170,"y":2605},{"x":171,"y":2570},{"x":172,"y":2540},{"x":173,"y":2595},{"x":174,"y":2560},{"x":175,"y":2625},{"x":176,"y":2545},{"x":177,"y":2580},{"x":178,"y":2515},{"x":179,"y":2600},{"x":180,"y":2565},{"x":181,"y":2590},{"x":182,"y":2535},{"x":183,"y":2610},{"x":184,"y":2575},{"x":185,"y":2550},{"x":186,"y":2620},{"x":187,"y":2560},{"x":188,"y":2585},{"x":189,"y":2540},{"x":190,"y":2600},{"x":191,"y":2570},{"x":192,"y":2545},{"x":193,"y":2680},{"x":194,"y":2565},{"x":195,"y":2530},{"x":196,"y":2595},{"x":197,"y":2575},{"x":198,"y":2615},{"x":199,"y":2550},{"x":200,"y":2580},{"x":201,"y":2525},{"x":202,"y":2605},{"x":203,"y":2560},{"x":204,"y":2590},{"x":205,"y":2545},{"x":206,"y":2620},{"x":207,"y":2570},{"x":208,"y":2535},{"x":209,"y":2600},{"x":210,"y":2565},{"x":211,"y":2640},{"x":212,"y":2575},{"x":213,"y":2550},{"x":214,"y":2595},{"x":215,"y":2530},{"x":216,"y":2610},{"x":217,"y":2580},{"x":218,"y":2555},{"x":219,"y":2620},{"x":220,"y":2545},{"x":221,"y":2590},{"x":222,"y":2565},{"x":223,"y":2605},{"x":224,"y":2535},{"x":225,"y":2585},{"x":226,"y":2660},{"x":227,"y":2570},{"x":228,"y":2550},{"x":229,"y":2615},{"x":230,"y":2580},{"x":231,"y":2545},{"x":232,"y":2600},{"x":233,"y":2560},{"x":234,"y":2625},{"x":235,"y":2575},{"x":236,"y":2540},{"x":237,"y":2595},{"x":238,"y":2565},{"x":239,"y":2610},{"x":240,"y":2530},{"x":241,"y":2590},{"x":242,"y":2570},{"x":243,"y":2645},{"x":244,"y":2555},{"x":245,"y":2585},{"x":246,"y":2520},{"x":247,"y":2605},{"x":248,"y":2575},{"x":249,"y":2560},{"x":250,"y":2595},{"x":251,"y":2540},{"x":252,"y":2610},{"x":253,"y":2570},{"x":254,"y":2585},{"x":255,"y":2550}],
    "p8": [{"x":0,"y":250},{"x":1,"y":228},{"x":2,"y":262},{"x":3,"y":241},{"x":4,"y":273},{"x":5,"y":236},{"x":6,"y":255},{"x":7,"y":247},{"x":8,"y":268},{"x":9,"y":239},{"x":10,"y":271},{"x":11,"y":258},{"x":12,"y":283},{"x":13,"y":266},{"x":14,"y":300},{"x":15,"y":251},{"x":16,"y":240},{"x":17,"y":233},{"x":18,"y":262},{"x":19,"y":245},{"x":20,"y":278},{"x":21,"y":236},{"x":22,"y":254},{"x":23,"y":249},{"x":24,"y":243},{"x":25,"y":257},{"x":26,"y":238},{"x":27,"y":252},{"x":28,"y":246},{"x":29,"y":241},{"x":30,"y":220},{"x":31,"y":259},{"x":32,"y":235},{"x":33,"y":228},{"x":34,"y":251},{"x":35,"y":262},{"x":36,"y":244},{"x":37,"y":239},{"x":38,"y":287},{"x":39,"y":253},{"x":40,"y":236},{"x":41,"y":248},{"x":42,"y":264},{"x":43,"y":241},{"x":44,"y":257},{"x":45,"y":233},{"x":46,"y":275},{"x":47,"y":246},{"x":48,"y":240},{"x":49,"y":260},{"x":50,"y":235},{"x":51,"y":252},{"x":52,"y":244},{"x":53,"y":280},{"x":54,"y":238},{"x":55,"y":256},{"x":56,"y":247},{"x":57,"y":233},{"x":58,"y":263},{"x":59,"y":250},{"x":60,"y":242},{"x":61,"y":271},{"x":62,"y":237},{"x":63,"y":259},{"x":64,"y":226},{"x":65,"y":248},{"x":66,"y":262},{"x":67,"y":240},{"x":68,"y":254},{"x":69,"y":238},{"x":70,"y":265},{"x":71,"y":245},{"x":72,"y":232},{"x":73,"y":258},{"x":74,"y":249},{"x":75,"y":241},{"x":76,"y":285},{"x":77,"y":252},{"x":78,"y":236},{"x":79,"y":261},{"x":80,"y":244},{"x":81,"y":257},{"x":82,"y":239},{"x":83,"y":266},{"x":84,"y":250},{"x":85,"y":227},{"x":86,"y":255},{"x":87,"y":242},{"x":88,"y":263},{"x":89,"y":247},{"x":90,"y":236},{"x":91,"y":258},{"x":92,"y":245},{"x":93,"y":301},{"x":94,"y":240},{"x":95,"y":253},{"x":96,"y":233},{"x":97,"y":262},{"x":98,"y":249},{"x":99,"y":241},{"x":100,"y":256},{"x":101,"y":238},{"x":102,"y":270},{"x":103,"y":246},{"x":104,"y":252},{"x":105,"y":233},{"x":106,"y":261},{"x":107,"y":244},{"x":108,"y":257},{"x":109,"y":240},{"x":110,"y":266},{"x":111,"y":248},{"x":112,"y":237},{"x":113,"y":259},{"x":114,"y":243},{"x":115,"y":284},{"x":116,"y":251},{"x":117,"y":239},{"x":118,"y":262},{"x":119,"y":246},{"x":120,"y":297},{"x":121,"y":254},{"x":122,"y":240},{"x":123,"y":263},{"x":124,"y":248},{"x":125,"y":236},{"x":126,"y":271},{"x":127,"y":245},{"x":128,"y":258},{"x":129,"y":242},{"x":130,"y":253},{"x":131,"y":289},{"x":132,"y":239},{"x":133,"y":261},{"x":134,"y":247},{"x":135,"y":234},{"x":136,"y":256},{"x":137,"y":243},{"x":138,"y":268},{"x":139,"y":250},{"x":140,"y":238},{"x":141,"y":259},{"x":142,"y":245},{"x":143,"y":274},{"x":144,"y":240},{"x":145,"y":255},{"x":146,"y":231},{"x":147,"y":262},{"x":148,"y":249},{"x":149,"y":244},{"x":150,"y":257},{"x":151,"y":236},{"x":152,"y":266},{"x":153,"y":251},{"x":154,"y":242},{"x":155,"y":286},{"x":156,"y":247},{"x":157,"y":239},{"x":158,"y":260},{"x":159,"y":245},{"x":160,"y":253},{"x":161,"y":272},{"x":162,"y":240},{"x":163,"y":264},{"x":164,"y":296},{"x":165,"y":249},{"x":166,"y":236},{"x":167,"y":258},{"x":168,"y":245},{"x":169,"y":281},{"x":170,"y":242},{"x":171,"y":260},{"x":172,"y":251},{"x":173,"y":237},{"x":174,"y":276},{"x":175,"y":248},{"x":176,"y":255},{"x":177,"y":232},{"x":178,"y":267},{"x":179,"y":244},{"x":180,"y":259},{"x":181,"y":247},{"x":182,"y":238},{"x":183,"y":262},{"x":184,"y":253},{"x":185,"y":241},{"x":186,"y":270},{"x":187,"y":236},{"x":188,"y":257},{"x":189,"y":249},{"x":190,"y":243},{"x":191,"y":265},{"x":192,"y":240},{"x":193,"y":254},{"x":194,"y":228},{"x":195,"y":261},{"x":196,"y":247},{"x":197,"y":272},{"x":198,"y":239},{"x":199,"y":256},{"x":200,"y":245},{"x":201,"y":230},{"x":202,"y":263},{"x":203,"y":251},{"x":204,"y":240},{"x":205,"y":258},{"x":206,"y":235},{"x":207,"y":267},{"x":208,"y":246},{"x":209,"y":253},{"x":210,"y":238},{"x":211,"y":260},{"x":212,"y":249},{"x":213,"y":244},{"x":214,"y":276},{"x":215,"y":241},{"x":216,"y":257},{"x":217,"y":233},{"x":218,"y":268},{"x":219,"y":250},{"x":220,"y":243},{"x":221,"y":262},{"x":222,"y":236},{"x":223,"y":255},{"x":224,"y":247},{"x":225,"y":271},{"x":226,"y":239},{"x":227,"y":258},{"x":228,"y":245},{"x":229,"y":279},{"x":230,"y":252},{"x":231,"y":240},{"x":232,"y":264},{"x":233,"y":248},{"x":234,"y":236},{"x":235,"y":275},{"x":236,"y":244},{"x":237,"y":257},{"x":238,"y":283},{"x":239,"y":242},{"x":240,"y":260},{"x":241,"y":237},{"x":242,"y":254},{"x":243,"y":246},{"x":244,"y":269},{"x":245,"y":241},{"x":246,"y":258},{"x":247,"y":235},{"x":248,"y":263},{"x":249,"y":250},{"x":250,"y":244},{"x":251,"y":261},{"x":252,"y":238},{"x":253,"y":256},{"x":254,"y":247},{"x":255,"y":252}]
  },
  "vconcat": [
    {
      "hconcat": [
        {
          "width": 23, "height": 1,
          "data": {"values": [{}]},
          "mark": {"type": "point", "opacity": 0},
          "encoding": {},
          "view": {"stroke": null}
        },
        {
          "columns": 2,
          "align": "none",
          "bounds": "full",
          "spacing": {"row": 0, "column": 0},
          "concat": [
            {
              "data": {"name": "p1"},
              "title": {"text": "Original image"},
              "width": 353, "height": 116,
              "resolve": {"axis": {"x": "independent", "y": "independent"}},
              "layer": [
                {"mark": {"type": "bar", "orient": "vertical", "width": 1.1, "color": "#aad3d9", "stroke": "#5b97a1", "strokeWidth": 0.35, "clip": true},
                 "encoding": {
                   "x": {"field": "x", "type": "quantitative", "scale": {"domain": [0, 254], "nice": false, "zero": false}, "axis": {"values": [0, 50, 100, 150, 200, 250], "ticks": false, "domain": false, "grid": false, "labelPadding": 4, "minExtent": 29.5, "maxExtent": 29.5, "title": null}},
                   "y": {"field": "y", "type": "quantitative", "scale": {"domain": [-165, 2307], "nice": false, "zero": false}, "axis": {"values": [0, 500, 1000, 1500, 2000], "format": "d", "ticks": false, "domain": false, "grid": false, "labelPadding": 6, "minExtent": 0, "maxExtent": 66, "title": null}}
                 }},
                {"mark": {"type": "bar", "orient": "vertical", "width": 2, "clip": true},
                 "encoding": {
                   "x": {"field": "x", "type": "quantitative", "axis": {"orient": "top", "values": [0, 50, 100, 150, 200, 250], "labels": false, "domain": false, "grid": false, "tickSize": -3, "tickColor": "#8a8a8a", "minExtent": 0, "maxExtent": 0, "title": null}},
                   "y": {"datum": -165, "type": "quantitative", "axis": {"orient": "right", "values": [0, 500, 1000, 1500, 2000], "labels": false, "domain": false, "grid": false, "tickSize": -3, "tickColor": "#8a8a8a", "minExtent": 0, "maxExtent": 0, "title": null}},
                   "y2": {"datum": 0},
                   "color": {"field": "x", "type": "quantitative", "scale": {"domain": [0, 255], "range": ["#000000", "#ffffff"], "interpolate": "rgb"}, "legend": null}
                 }},
                {"mark": {"type": "rule", "color": "#1e1e1e", "strokeWidth": 1.2}, "encoding": {"y": {"datum": 0, "type": "quantitative", "axis": null}}}
              ]
            },
            {
              "data": {"name": "p2"},
              "title": {"text": "Original image"},
              "width": 348, "height": 116,
              "resolve": {"axis": {"x": "independent", "y": "independent"}},
              "layer": [
                {"mark": {"type": "bar", "orient": "vertical", "width": 1.1, "color": "#aad3d9", "stroke": "#5b97a1", "strokeWidth": 0.35, "clip": true},
                 "encoding": {
                   "x": {"field": "x", "type": "quantitative", "scale": {"domain": [0, 254], "nice": false, "zero": false}, "axis": {"values": [0, 50, 100, 150, 200, 250], "ticks": false, "domain": false, "grid": false, "labelPadding": 4, "minExtent": 29.5, "maxExtent": 29.5, "title": null}},
                   "y": {"field": "y", "type": "quantitative", "scale": {"domain": [-82, 1042], "nice": false, "zero": false}, "axis": {"values": [0, 500, 1000], "format": "d", "ticks": false, "domain": false, "grid": false, "labelPadding": 6, "minExtent": 35, "maxExtent": 35, "title": null}}
                 }},
                {"mark": {"type": "bar", "orient": "vertical", "width": 2, "clip": true},
                 "encoding": {
                   "x": {"field": "x", "type": "quantitative", "axis": {"orient": "top", "values": [0, 50, 100, 150, 200, 250], "labels": false, "domain": false, "grid": false, "tickSize": -3, "tickColor": "#8a8a8a", "minExtent": 0, "maxExtent": 0, "title": null}},
                   "y": {"datum": -82, "type": "quantitative", "axis": {"orient": "right", "values": [0, 500, 1000], "labels": false, "domain": false, "grid": false, "tickSize": -3, "tickColor": "#8a8a8a", "minExtent": 0, "maxExtent": 0, "title": null}},
                   "y2": {"datum": 0},
                   "color": {"field": "x", "type": "quantitative", "scale": {"domain": [0, 255], "range": ["#000000", "#ffffff"], "interpolate": "rgb"}, "legend": null}
                 }},
                {"mark": {"type": "rule", "color": "#1e1e1e", "strokeWidth": 1.2}, "encoding": {"y": {"datum": 0, "type": "quantitative", "axis": null}}}
              ]
            },
            {
              "data": {"name": "p3"},
              "title": {"text": "Encryption image"},
              "width": 353, "height": 115,
              "resolve": {"axis": {"x": "independent", "y": "independent"}},
              "layer": [
                {"mark": {"type": "bar", "orient": "vertical", "width": 1.1, "color": "#aad3d9", "stroke": "#5b97a1", "strokeWidth": 0.35, "clip": true},
                 "encoding": {
                   "x": {"field": "x", "type": "quantitative", "scale": {"domain": [0, 254], "nice": false, "zero": false}, "axis": {"values": [0, 50, 100, 150, 200, 250], "ticks": false, "domain": false, "grid": false, "labelPadding": 4, "minExtent": 41.5, "maxExtent": 41.5, "title": null}},
                   "y": {"field": "y", "type": "quantitative", "scale": {"domain": [-138, 1932], "nice": false, "zero": false}, "axis": {"values": [0, 500, 1000, 1500], "format": "d", "ticks": false, "domain": false, "grid": false, "labelPadding": 6, "minExtent": 0, "maxExtent": 66, "title": null}}
                 }},
                {"mark": {"type": "bar", "orient": "vertical", "width": 2, "clip": true},
                 "encoding": {
                   "x": {"field": "x", "type": "quantitative", "axis": {"orient": "top", "values": [0, 50, 100, 150, 200, 250], "labels": false, "domain": false, "grid": false, "tickSize": -3, "tickColor": "#8a8a8a", "minExtent": 0, "maxExtent": 0, "title": null}},
                   "y": {"datum": -138, "type": "quantitative", "axis": {"orient": "right", "values": [0, 500, 1000, 1500], "labels": false, "domain": false, "grid": false, "tickSize": -3, "tickColor": "#8a8a8a", "minExtent": 0, "maxExtent": 0, "title": null}},
                   "y2": {"datum": 0},
                   "color": {"field": "x", "type": "quantitative", "scale": {"domain": [0, 255], "range": ["#000000", "#ffffff"], "interpolate": "rgb"}, "legend": null}
                 }},
                {"mark": {"type": "rule", "color": "#1e1e1e", "strokeWidth": 1.2}, "encoding": {"y": {"datum": 0, "type": "quantitative", "axis": null}}}
              ]
            },
            {
              "data": {"name": "p4"},
              "title": {"text": "Encryption image"},
              "width": 348, "height": 115,
              "resolve": {"axis": {"x": "independent", "y": "independent"}},
              "layer": [
                {"mark": {"type": "bar", "orient": "vertical", "width": 1.1, "color": "#aad3d9", "stroke": "#5b97a1", "strokeWidth": 0.35, "clip": true},
                 "encoding": {
                   "x": {"field": "x", "type": "quantitative", "scale": {"domain": [0, 254], "nice": false, "zero": false}, "axis": {"values": [0, 50, 100, 150, 200, 250], "ticks": false, "domain": false, "grid": false, "labelPadding": 4, "minExtent": 41.5, "maxExtent": 41.5, "title": null}},
                   "y": {"field": "y", "type": "quantitative", "scale": {"domain": [-44, 638], "nice": false, "zero": false}, "axis": {"values": [0, 200, 400, 600], "format": "d", "ticks": false, "domain": false, "grid": false, "labelPadding": 6, "minExtent": 35, "maxExtent": 35, "title": null}}
                 }},
                {"mark": {"type": "bar", "orient": "vertical", "width": 2, "clip": true},
                 "encoding": {
                   "x": {"field": "x", "type": "quantitative", "axis": {"orient": "top", "values": [0, 50, 100, 150, 200, 250], "labels": false, "domain": false, "grid": false, "tickSize": -3, "tickColor": "#8a8a8a", "minExtent": 0, "maxExtent": 0, "title": null}},
                   "y": {"datum": -44, "type": "quantitative", "axis": {"orient": "right", "values": [0, 200, 400, 600], "labels": false, "domain": false, "grid": false, "tickSize": -3, "tickColor": "#8a8a8a", "minExtent": 0, "maxExtent": 0, "title": null}},
                   "y2": {"datum": 0},
                   "color": {"field": "x", "type": "quantitative", "scale": {"domain": [0, 255], "range": ["#000000", "#ffffff"], "interpolate": "rgb"}, "legend": null}
                 }},
                {"mark": {"type": "rule", "color": "#1e1e1e", "strokeWidth": 1.2}, "encoding": {"y": {"datum": 0, "type": "quantitative", "axis": null}}}
              ]
            }
          ]
        }
      ],
      "bounds": "flush",
      "spacing": 0
    },
    {
      "columns": 2,
      "align": "none",
      "bounds": "full",
      "spacing": {"row": 0, "column": 0},
      "concat": [
        {
          "data": {"name": "p5"},
          "title": {"text": "Original image"},
          "width": 352, "height": 117,
          "resolve": {"axis": {"x": "independent", "y": "independent"}},
          "layer": [
            {"mark": {"type": "bar", "orient": "vertical", "width": 1.1, "color": "#aad3d9", "stroke": "#5b97a1", "strokeWidth": 0.35, "clip": true},
             "encoding": {
               "x": {"field": "x", "type": "quantitative", "scale": {"domain": [0, 254], "nice": false, "zero": false}, "axis": {"values": [0, 50, 100, 150, 200, 250], "ticks": false, "domain": false, "grid": false, "labelPadding": 4, "minExtent": 29, "maxExtent": 29, "title": null}},
               "y": {"field": "y", "type": "quantitative", "scale": {"domain": [-657, 9371], "nice": false, "zero": false}, "axis": {"values": [0, 2000, 4000, 6000, 8000], "format": "d", "ticks": false, "domain": false, "grid": false, "labelPadding": 6, "minExtent": 39, "maxExtent": 39, "title": null}}
             }},
            {"mark": {"type": "bar", "orient": "vertical", "width": 2, "clip": true},
             "encoding": {
               "x": {"field": "x", "type": "quantitative", "axis": {"orient": "top", "values": [0, 50, 100, 150, 200, 250], "labels": false, "domain": false, "grid": false, "tickSize": -3, "tickColor": "#8a8a8a", "minExtent": 0, "maxExtent": 0, "title": null}},
               "y": {"datum": -657, "type": "quantitative", "axis": {"orient": "right", "values": [0, 2000, 4000, 6000, 8000], "labels": false, "domain": false, "grid": false, "tickSize": -3, "tickColor": "#8a8a8a", "minExtent": 0, "maxExtent": 0, "title": null}},
               "y2": {"datum": 0},
               "color": {"field": "x", "type": "quantitative", "scale": {"domain": [0, 255], "range": ["#000000", "#ffffff"], "interpolate": "rgb"}, "legend": null}
             }},
            {"mark": {"type": "rule", "color": "#1e1e1e", "strokeWidth": 1.2}, "encoding": {"y": {"datum": 0, "type": "quantitative", "axis": null}}}
          ]
        },
        {
          "data": {"name": "p6"},
          "title": {"text": "Original image"},
          "width": 358, "height": 119,
          "resolve": {"axis": {"x": "independent", "y": "independent"}},
          "layer": [
            {"mark": {"type": "bar", "orient": "vertical", "width": 1.1, "color": "#aad3d9", "stroke": "#5b97a1", "strokeWidth": 0.35, "clip": true},
             "encoding": {
               "x": {"field": "x", "type": "quantitative", "scale": {"domain": [0, 254], "nice": false, "zero": false}, "axis": {"values": [0, 50, 100, 150, 200, 250], "ticks": false, "domain": false, "grid": false, "labelPadding": 4, "minExtent": 29, "maxExtent": 29, "title": null}},
               "y": {"field": "y", "type": "quantitative", "scale": {"domain": [-630, 8300], "nice": false, "zero": false}, "axis": {"values": [0, 2000, 4000, 6000, 8000], "format": "d", "ticks": false, "domain": false, "grid": false, "labelPadding": 6, "minExtent": 36, "maxExtent": 36, "title": null}}
             }},
            {"mark": {"type": "bar", "orient": "vertical", "width": 2, "clip": true},
             "encoding": {
               "x": {"field": "x", "type": "quantitative", "axis": {"orient": "top", "values": [0, 50, 100, 150, 200, 250], "labels": false, "domain": false, "grid": false, "tickSize": -3, "tickColor": "#8a8a8a", "minExtent": 0, "maxExtent": 0, "title": null}},
               "y": {"datum": -630, "type": "quantitative", "axis": {"orient": "right", "values": [0, 2000, 4000, 6000, 8000], "labels": false, "domain": false, "grid": false, "tickSize": -3, "tickColor": "#8a8a8a", "minExtent": 0, "maxExtent": 0, "title": null}},
               "y2": {"datum": 0},
               "color": {"field": "x", "type": "quantitative", "scale": {"domain": [0, 255], "range": ["#000000", "#ffffff"], "interpolate": "rgb"}, "legend": null}
             }},
            {"mark": {"type": "rule", "color": "#1e1e1e", "strokeWidth": 1.2}, "encoding": {"y": {"datum": 0, "type": "quantitative", "axis": null}}}
          ]
        },
        {
          "data": {"name": "p7"},
          "title": {"text": "Encryption image"},
          "width": 352, "height": 117,
          "resolve": {"axis": {"x": "independent", "y": "independent"}},
          "layer": [
            {"mark": {"type": "bar", "orient": "vertical", "width": 1.1, "color": "#aad3d9", "stroke": "#5b97a1", "strokeWidth": 0.35, "clip": true},
             "encoding": {
               "x": {"field": "x", "type": "quantitative", "scale": {"domain": [0, 254], "nice": false, "zero": false}, "axis": {"values": [0, 50, 100, 150, 200, 250], "ticks": false, "domain": false, "grid": false, "labelPadding": 4, "minExtent": 15, "maxExtent": 15, "title": null}},
               "y": {"field": "y", "type": "quantitative", "scale": {"domain": [-457, 6557], "nice": false, "zero": false}, "axis": {"values": [0, 2000, 4000, 6000], "format": "d", "ticks": false, "domain": false, "grid": false, "labelPadding": 6, "minExtent": 39, "maxExtent": 39, "title": null}}
             }},
            {"mark": {"type": "bar", "orient": "vertical", "width": 2, "clip": true},
             "encoding": {
               "x": {"field": "x", "type": "quantitative", "axis": {"orient": "top", "values": [0, 50, 100, 150, 200, 250], "labels": false, "domain": false, "grid": false, "tickSize": -3, "tickColor": "#8a8a8a", "minExtent": 0, "maxExtent": 0, "title": null}},
               "y": {"datum": -457, "type": "quantitative", "axis": {"orient": "right", "values": [0, 2000, 4000, 6000], "labels": false, "domain": false, "grid": false, "tickSize": -3, "tickColor": "#8a8a8a", "minExtent": 0, "maxExtent": 0, "title": null}},
               "y2": {"datum": 0},
               "color": {"field": "x", "type": "quantitative", "scale": {"domain": [0, 255], "range": ["#000000", "#ffffff"], "interpolate": "rgb"}, "legend": null}
             }},
            {"mark": {"type": "rule", "color": "#1e1e1e", "strokeWidth": 1.2}, "encoding": {"y": {"datum": 0, "type": "quantitative", "axis": null}}}
          ]
        },
        {
          "data": {"name": "p8"},
          "title": {"text": "Encrption image", "offset": 8},
          "width": 358, "height": 117,
          "resolve": {"axis": {"x": "independent", "y": "independent"}},
          "layer": [
            {"mark": {"type": "bar", "orient": "vertical", "width": 1.1, "color": "#aad3d9", "stroke": "#5b97a1", "strokeWidth": 0.35, "clip": true},
             "encoding": {
               "x": {"field": "x", "type": "quantitative", "scale": {"domain": [0, 254], "nice": false, "zero": false}, "axis": {"values": [0, 50, 100, 150, 200, 250], "ticks": false, "domain": false, "grid": false, "labelPadding": 4, "minExtent": 15, "maxExtent": 15, "title": null}},
               "y": {"field": "y", "type": "quantitative", "scale": {"domain": [-42, 633], "nice": false, "zero": false}, "axis": {"values": [0, 200, 400, 600], "format": "d", "ticks": false, "domain": false, "grid": false, "labelPadding": 6, "minExtent": 36, "maxExtent": 36, "title": null}}
             }},
            {"mark": {"type": "bar", "orient": "vertical", "width": 2, "clip": true},
             "encoding": {
               "x": {"field": "x", "type": "quantitative", "axis": {"orient": "top", "values": [0, 50, 100, 150, 200, 250], "labels": false, "domain": false, "grid": false, "tickSize": -3, "tickColor": "#8a8a8a", "minExtent": 0, "maxExtent": 0, "title": null}},
               "y": {"datum": -42, "type": "quantitative", "axis": {"orient": "right", "values": [0, 200, 400, 600], "labels": false, "domain": false, "grid": false, "tickSize": -3, "tickColor": "#8a8a8a", "minExtent": 0, "maxExtent": 0, "title": null}},
               "y2": {"datum": 0},
               "color": {"field": "x", "type": "quantitative", "scale": {"domain": [0, 255], "range": ["#000000", "#ffffff"], "interpolate": "rgb"}, "legend": null}
             }},
            {"mark": {"type": "rule", "color": "#1e1e1e", "strokeWidth": 1.2}, "encoding": {"y": {"datum": 0, "type": "quantitative", "axis": null}}}
          ]
        }
      ]
    }
  ],
  "config": {
    "font": "Liberation Sans",
    "view": {"stroke": "#9c9c9c", "strokeWidth": 1},
    "axis": {"labelFont": "Liberation Sans", "labelFontSize": 10.5, "labelColor": "#303030"},
    "title": {"font": "Liberation Sans", "fontSize": 11.5, "fontWeight": "normal", "color": "#202020", "offset": 3, "anchor": "middle"}
  }
}
